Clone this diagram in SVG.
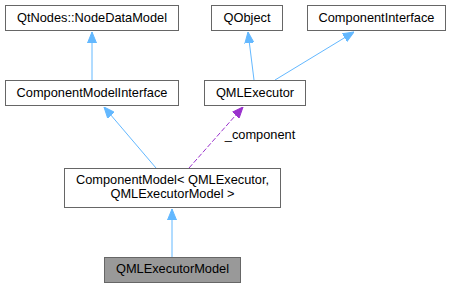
<svg xmlns="http://www.w3.org/2000/svg" width="451" height="288" viewBox="0 0 451 288">
  <style>
    .box { fill: #ffffff; stroke: #666666; stroke-width: 1; }
    .cur { fill: #999999; stroke: #666666; stroke-width: 1; }
    text { font-family: "Liberation Sans", Arial, Helvetica, sans-serif; font-size: 12.8px; fill: #000000; text-anchor: middle; }
    .inh { stroke: #63b8ff; stroke-width: 1; fill: none; }
    .use { stroke: #9a32cd; stroke-width: 1; fill: none; stroke-dasharray: 5,2; }
  </style>
  <defs>
    <marker id="ah-blue" viewBox="0 0 11 10" refX="11" refY="5" markerWidth="11" markerHeight="10" markerUnits="userSpaceOnUse" orient="auto">
      <path d="M0,0.5 L11,5 L0,9.5 Z" fill="#63b8ff" stroke="#63b8ff"/>
    </marker>
    <marker id="ah-purple" viewBox="0 0 11 10" refX="11" refY="5" markerWidth="11" markerHeight="10" markerUnits="userSpaceOnUse" orient="auto">
      <path d="M0,0.5 L11,5 L0,9.5 Z" fill="#9a32cd" stroke="#9a32cd"/>
    </marker>
  </defs>

  <g id="edges">
    <line class="inh" x1="92" y1="80" x2="92" y2="32" marker-end="url(#ah-blue)"/>
    <line class="inh" x1="254" y1="80" x2="248" y2="32" marker-end="url(#ah-blue)"/>
    <line class="inh" x1="275" y1="80" x2="354" y2="32" marker-end="url(#ah-blue)"/>
    <line class="inh" x1="156" y1="168" x2="104" y2="107" marker-end="url(#ah-blue)"/>
    <line class="use" x1="189" y1="168" x2="243" y2="107" marker-end="url(#ah-purple)"/>
    <text x="260" y="139.3">_component</text>
    <line class="inh" x1="172" y1="257" x2="172" y2="209" marker-end="url(#ah-blue)"/>
  </g>

  <g id="node-NodeDataModel">
    <rect class="box" x="5.5" y="5.5" width="173" height="25"/>
    <text x="92" y="21.5">QtNodes::NodeDataModel</text>
  </g>
  <g id="node-QObject">
    <rect class="box" x="211.5" y="5.5" width="71" height="25"/>
    <text x="247" y="21.5">QObject</text>
  </g>
  <g id="node-ComponentInterface">
    <rect class="box" x="307.5" y="5.5" width="138" height="25"/>
    <text x="376.5" y="21.5">ComponentInterface</text>
  </g>
  <g id="node-ComponentModelInterface">
    <rect class="box" x="5.5" y="80.5" width="173" height="25"/>
    <text x="92" y="96.8">ComponentModelInterface</text>
  </g>
  <g id="node-QMLExecutor">
    <rect class="box" x="204.5" y="80.5" width="101" height="25"/>
    <text x="255" y="96.8">QMLExecutor</text>
  </g>
  <g id="node-ComponentModel">
    <rect class="box" x="64.5" y="168.5" width="216" height="39"/>
    <text x="172.5" y="183.5">ComponentModel&lt; QMLExecutor,</text>
    <text x="172.5" y="197.5">QMLExecutorModel &gt;</text>
  </g>
  <g id="node-QMLExecutorModel">
    <rect class="cur" x="104.5" y="257.5" width="136" height="25"/>
    <text x="172.5" y="272.5">QMLExecutorModel</text>
  </g>
</svg>
